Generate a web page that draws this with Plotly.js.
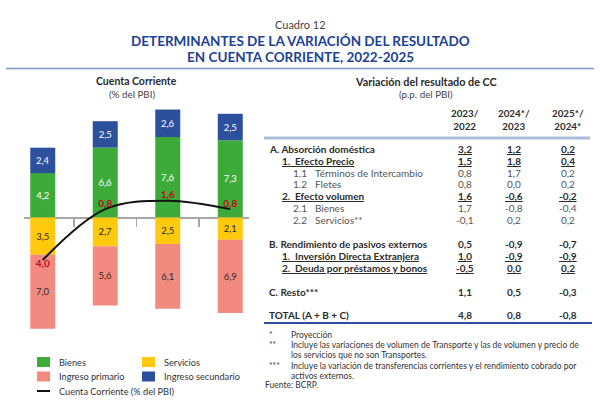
<!DOCTYPE html>
<html><head><meta charset="utf-8">
<script src="https://cdn.plot.ly/plotly-3.0.1.min.js"></script>
<style>html,body{margin:0;padding:0;background:#fff}#chart{width:600px;height:412px}</style>
</head><body><div id="chart"></div>
<script>
// ---------------- DATA ----------------
const years = ['2022', '2023', '2024*', '2025*'];
const bienes = [4.2, 6.6, 7.6, 7.3];
const servicios = [-3.5, -2.7, -2.5, -2.1];
const ingresoPrimario = [-7.0, -5.6, -6.1, -6.9];
const ingresoSecundario = [2.4, 2.5, 2.6, 2.5];
const cuentaCorriente = [-4.0, 0.8, 1.6, 0.8];

const tableCols = ['2023/<br>2022', '2024*/<br>2023', '2025*/<br>2024*'];
const rowNum = ['A.', '1.', '1.1', '1.2', '2.', '2.1', '2.2', 'B.', '1.', '2.', 'C.', ''];
const rowText = ['Absorción doméstica', 'Efecto Precio', 'Términos de Intercambio', 'Fletes',
  'Efecto volumen', 'Bienes', 'Servicios**', 'Rendimiento de pasivos externos',
  'Inversión Directa Extranjera', 'Deuda por préstamos y bonos', 'Resto***', 'TOTAL (A + B + C)'];
const var2023 = [3.2, 1.5, 0.8, 0.8, 1.6, 1.7, -0.1, 0.5, 1.0, -0.5, 1.1, 4.8];
const var2024 = [1.2, 1.8, 1.7, 0.0, -0.6, -0.8, 0.2, -0.9, -0.9, 0.0, 0.5, 0.8];
const var2025 = [0.2, 0.4, 0.2, 0.2, -0.2, -0.4, 0.2, -0.7, -0.9, 0.2, -0.3, -0.8];

const footMarks = ['*', '**', '', '***', '', ''];
const footLines = ['Proyección',
  'Incluye las variaciones de volumen de Transporte y las de volumen y precio de',
  'los servicios que no son Transportes.',
  'Incluye la variación de transferencias corrientes y el rendimiento cobrado por',
  'activos externos.',
  'Fuente: BCRP.'];

// ---------------- LAYOUT / STYLE ----------------
const W = 600, H = 412;
const px = x => x / W;
const py = y => 1 - y / H;
const FONT = 'Lato, "Open Sans", sans-serif';
const fmt = v => (v < 0 ? '-' : '') + Math.abs(v).toFixed(1).replace('.', ',');
const fmtAbs = v => Math.abs(v).toFixed(1).replace('.', ',');

const C = {green: '#3cab3a', blue: '#2c509c', yellow: '#ffc90d', pink: '#f38a80',
  red: '#c00a1e', title: '#1d4394', axis: '#a6a6a6', text: '#2b2b2b', sub: '#555555'};

const plotL = 24, plotR = 249, plotT = 105, plotB = 332;
const yRange = [-10.8, 10.63];
const yDom = [py(plotB), py(plotT)];
const zeroPos = yDom[0] + (0 - yRange[0]) / (yRange[1] - yRange[0]) * (yDom[1] - yDom[0]);

function barTrace(name, vals, color, textColor) {
  return {type: 'bar', name: name, x: years, y: vals,
    marker: {color: color, line: {width: 0}},
    text: vals.map(fmtAbs), textposition: 'inside', insidetextanchor: 'middle', textangle: 0,
    constraintext: 'none',
    textfont: {family: FONT, size: 9.5, color: textColor}, hoverinfo: 'skip'};
}

const traces = [
  barTrace('Bienes', bienes, C.green, '#ffffff'),
  barTrace('Servicios', servicios, C.yellow, C.text),
  barTrace('Ingreso primario', ingresoPrimario, C.pink, C.text),
  barTrace('Ingreso secundario', ingresoSecundario, C.blue, '#ffffff'),
  {type: 'scatter', name: 'Cuenta Corriente (% del PBI)', mode: 'lines+text', x: years, y: cuentaCorriente,
    line: {color: '#111111', width: 2, shape: 'spline', smoothing: 1},
    text: cuentaCorriente.map(v => '<b>' + fmtAbs(v) + '</b>'),
    textposition: cuentaCorriente.map(v => v < 0 ? 'bottom center' : 'top center'),
    textfont: {family: FONT, size: 10, color: C.red}, cliponaxis: false, hoverinfo: 'skip'}
];

const ann = [];
function T(x, y, text, o) {
  o = o || {};
  ann.push({xref: 'paper', yref: 'paper', x: px(x), y: py(y), text: text, showarrow: false,
    xanchor: o.anchor || 'center', yanchor: 'middle', align: o.align || 'center',
    font: {family: FONT, size: o.size || 10, color: o.color || C.text}});
}

// titles
T(300, 25, 'Cuadro 12', {size: 11, color: '#444'});
T(300, 41, '<b>DETERMINANTES DE LA VARIACIÓN DEL RESULTADO</b>', {size: 13.5, color: C.title});
T(300, 57, '<b>EN CUENTA CORRIENTE, 2022-2025</b>', {size: 13.5, color: C.title});
T(136, 81.5, '<b>Cuenta Corriente</b>', {size: 10.5});
T(132, 94, '(% del PBI)', {size: 9.8, color: '#444'});
T(426, 81.5, '<b>Variación del resultado de CC</b>', {size: 10.8});
T(426, 94, '(p.p. del PBI)', {size: 9.8, color: '#444'});

// table header
const colX = [465, 514, 568];
tableCols.forEach((c, i) => T(colX[i], 120, '<b>' + c + '</b>', {size: 9.8}));

// table rows
const rowKind = ['main', 'sub', 'item', 'item', 'sub', 'item', 'item', 'main', 'sub', 'sub', 'main', 'main'];
const rowY = [149, 161, 172.5, 184, 196, 208, 219.5, 244, 256, 267.5, 292, 315];
const valUnderline = [true, true, false, false, true, false, false, false, true, true, false, false];
const cols = [var2023, var2024, var2025];
rowText.forEach((t, i) => {
  const k = rowKind[i], y = rowY[i];
  if (k === 'main') {
    T(267, y, '<b>' + (rowNum[i] ? rowNum[i] + ' ' : '') + t + '</b>', {anchor: 'left'});
  } else if (k === 'sub') {
    T(280, y, '<b><u>' + rowNum[i] + '\u00a0 ' + t + '</u></b>', {anchor: 'left'});
  } else {
    T(291, y, rowNum[i], {anchor: 'left', color: C.sub});
    T(313, y, t, {anchor: 'left', color: C.sub});
  }
  cols.forEach((col, j) => {
    let s = fmt(col[i]);
    if (valUnderline[i]) s = '<u>' + s + '</u>';
    if (k !== 'item') s = '<b>' + s + '</b>';
    T(colX[j], y, s, {color: k === 'item' ? C.sub : C.text});
  });
});

// footnotes
const footY = [335, 345, 355, 365.5, 375.5, 385];
footLines.forEach((t, i) => {
  if (footMarks[i]) T(267, footY[i], footMarks[i], {anchor: 'left', size: 8.5, color: '#444'});
  const x = (i === footLines.length - 1) ? 263 : 289;
  T(x, footY[i], t, {anchor: 'left', size: 8.5, color: '#333'});
});

// legend (manual, matches reference layout)
const shapes = [];
const legItems = [
  {name: traces[0].name, color: C.green, x: 37, y: 362},
  {name: traces[1].name, color: C.yellow, x: 142, y: 362},
  {name: traces[2].name, color: C.pink, x: 37, y: 376.5},
  {name: traces[3].name, color: C.blue, x: 142, y: 376.5}
];
legItems.forEach(it => {
  shapes.push({type: 'rect', xref: 'paper', yref: 'paper', x0: px(it.x), x1: px(it.x + 13),
    y0: py(it.y + 5), y1: py(it.y - 5), fillcolor: it.color, line: {width: 0}});
  T(it.x + 20, it.y, it.name, {anchor: 'left', size: 9.2, color: '#333'});
});
shapes.push({type: 'line', xref: 'paper', yref: 'paper', x0: px(37), x1: px(50), y0: py(391), y1: py(391),
  line: {color: '#111', width: 2}});
T(57, 391, traces[4].name, {anchor: 'left', size: 9.2, color: '#333'});

// rules
shapes.push({type: 'line', xref: 'paper', yref: 'paper', x0: px(6), x1: px(594), y0: py(68.5), y1: py(68.5),
  line: {color: '#7b96c8', width: 1.3}});
shapes.push({type: 'line', xref: 'paper', yref: 'paper', x0: px(264), x1: px(590), y0: py(138), y1: py(138),
  line: {color: '#a9bbd8', width: 3}});
shapes.push({type: 'line', xref: 'paper', yref: 'paper', x0: px(264), x1: px(592), y0: py(323), y1: py(323),
  line: {color: '#2d4d9e', width: 2}});

const layout = {
  width: W, height: H, autosize: false,
  margin: {l: 0, r: 0, t: 0, b: 0, pad: 0},
  paper_bgcolor: '#ffffff', plot_bgcolor: 'rgba(0,0,0,0)',
  showlegend: false, barmode: 'relative', bargap: 0.6,
  font: {family: FONT, color: C.text},
  xaxis: {type: 'category', domain: [px(plotL), px(plotR)], range: [-0.3, 3.3],
    anchor: 'free', position: zeroPos, showline: true, linecolor: C.axis, linewidth: 2,
    ticks: 'outside', tickson: 'boundaries', ticklen: 8, tickwidth: 1.5, tickcolor: C.axis,
    showticklabels: false, showgrid: false, zeroline: false, layer: 'below traces', fixedrange: true},
  xaxis2: {overlaying: 'x', anchor: 'y', side: 'bottom', domain: [px(plotL), px(plotR)], range: [-0.3, 3.3],
    type: 'linear', tickmode: 'array', tickvals: years.map((_, i) => i), ticktext: years,
    showline: false, ticks: '', showgrid: false, zeroline: false,
    tickfont: {family: FONT, size: 11.5, color: '#333'}, fixedrange: true},
  yaxis: {domain: yDom, range: yRange, showgrid: false, zeroline: false, showticklabels: false,
    ticks: '', showline: false, fixedrange: true},
  annotations: ann,
  shapes: shapes
};

Plotly.newPlot('chart', traces, layout, {displayModeBar: false, staticPlot: true});
</script>
</body></html>
